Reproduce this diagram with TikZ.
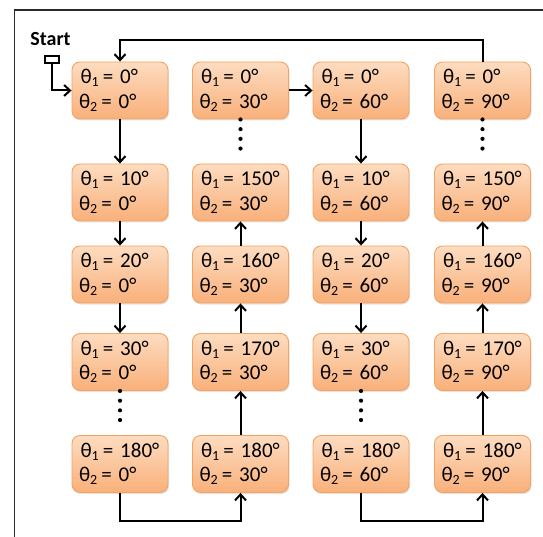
\documentclass[tikz,border=0pt]{standalone}
\usepackage{fontspec}
\setmainfont{Carlito}
\usetikzlibrary{arrows.meta,shadows}
\definecolor{boxtop}{HTML}{FDDCC0}
\definecolor{boxbot}{HTML}{F9B07A}
\definecolor{boxline}{HTML}{F5A261}
\definecolor{framegray}{HTML}{2A2A2A}
\tikzset{
  angbox/.style={rectangle, rounded corners=8pt, draw=boxline, line width=0.9pt,
    top color=boxtop, bottom color=boxbot,
    drop shadow={opacity=0.22, shadow xshift=1pt, shadow yshift=-1.5pt},
    minimum width=96pt, minimum height=57pt, text width=82pt,
    inner xsep=7pt, inner ysep=0pt, align=left,
    font=\fontsize{21}{23}\selectfont},
  flow/.style={line width=2pt, -{Straight Barb[length=6pt,width=11pt]}},
  dotrun/.style={line width=4.2pt, line cap=round, dash pattern=on 0pt off 9.7pt, shorten >=6pt},
  framing/.style={draw=framegray, line width=1.3pt}
}
\newcommand{\subnum}[1]{\textsubscript{\fontsize{14}{14}\selectfont #1}}
\newcommand{\angs}[2]{\kern1.5ptθ\subnum{1}\kern3.5pt= #1°\\\kern1.5ptθ\subnum{2}\kern3.5pt= #2°}
\begin{document}
\begin{tikzpicture}[x=1pt,y=-1pt]
  \useasboundingbox (0,0) rectangle (543,537);
  % frame edges
  \draw[framing] (543,10) -- (14.5,10) -- (14.5,537);

  % grid of angle pairs
  \foreach \c/\x/\tb in {1/120/0, 2/240.5/30, 3/361/60, 4/482.5/90}{
    \node[angbox] (r1c\c) at (\x,90.5) {\angs{0}{\tb}};
    \node[angbox] (r5c\c) at (\x,464) {\angs{180}{\tb}};
  }
  \foreach \c/\x/\tb/\a/\b/\d in {1/120/0/10/20/30, 2/240.5/30/150/160/170,
                                  3/361/60/10/20/30, 4/482.5/90/150/160/170}{
    \node[angbox] (r2c\c) at (\x,192.5) {\angs{\a}{\tb}};
    \node[angbox] (r3c\c) at (\x,274.5) {\angs{\b}{\tb}};
    \node[angbox] (r4c\c) at (\x,362) {\angs{\d}{\tb}};
  }

  % start marker
  \node[font=\fontsize{20}{22}\selectfont\bfseries] (start) at (50.5,39.5) {Start};
  \node[draw, line width=1.2pt, minimum width=14pt, minimum height=7pt, inner sep=0pt] (startbox) at (52,59.5) {};
  \draw[flow] (startbox.south) |- (r1c1.west);

  % descending columns
  \foreach \c in {1,3}{
    \draw[flow] (r1c\c) -- (r2c\c);
    \draw[flow] (r2c\c) -- (r3c\c);
    \draw[flow] (r3c\c) -- (r4c\c);
    \draw[dotrun] (r4c\c.south) -- (r5c\c.north);
  }
  % ascending columns
  \foreach \c in {2,4}{
    \draw[dotrun] (r1c\c.south) -- (r2c\c.north);
    \draw[flow] (r5c\c) -- (r4c\c);
    \draw[flow] (r4c\c) -- (r3c\c);
    \draw[flow] (r3c\c) -- (r2c\c);
  }

  % links between columns
  \coordinate (low1) at (0,520.7);
  \draw[flow] (r5c1.south) -- (r5c1.south |- low1) -| (r5c2.south);
  \draw[flow] (r5c3.south) -- (r5c3.south |- low1) -| (r5c4.south);
  \draw[flow] (r1c2) -- (r1c3);
  \coordinate (high1) at (0,40);
  \draw[flow] (r1c4.north) -- (r1c4.north |- high1) -| (r1c1.north);
\end{tikzpicture}
\end{document}
